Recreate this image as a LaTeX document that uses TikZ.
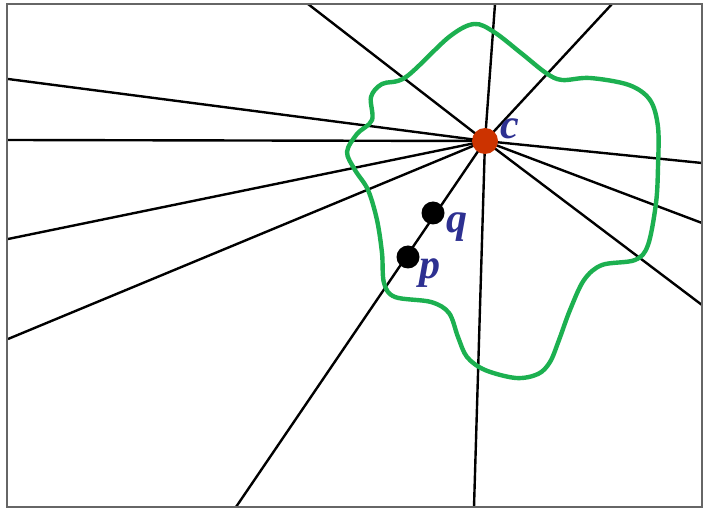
\documentclass[tikz,border=0pt]{standalone}
\usepackage{fontspec}
\setmainfont{Liberation Serif}
\definecolor{curvegreen}{RGB}{28,176,80}
\definecolor{dotred}{RGB}{204,51,0}
\definecolor{labelblue}{RGB}{45,48,145}
\begin{document}
\begin{tikzpicture}[x=1pt,y=-1pt,
  ray/.style={line width=2.4pt,black},
  frame/.style={line width=2pt,draw=black!60},
  blob/.style={line width=4.4pt,draw=curvegreen},
  dotnode/.style={circle,fill=black,inner sep=0pt,minimum size=23pt},
  lbl/.style={text=labelblue,font=\fontsize{42}{42}\selectfont\bfseries\itshape,inner sep=0pt,anchor=base west}]
\useasboundingbox (0,0) rectangle (704,510);
\fill[white] (0,0) rectangle (704,510);
\coordinate (c) at (485,141);
% ray ends on the frame
\coordinate (L1) at (8,79);
\coordinate (L2) at (8,140);
\coordinate (L3) at (8,239);
\coordinate (L4) at (8,339);
\coordinate (T1) at (308,4);
\coordinate (T2) at (495,4);
\coordinate (T3) at (612,4);
\coordinate (R1) at (702,163);
\coordinate (R2) at (702,223);
\coordinate (R3) at (702,305);
\coordinate (B1) at (236,507);
\coordinate (B2) at (474,507);
\foreach \e in {L1,L2,L3,L4,T1,T2,T3,R1,R2,R3,B1,B2}
  \draw[ray] (c) -- (\e);
\draw[frame] (7,4) rectangle (702,507);
\draw[blob] plot[smooth cycle,tension=0.55] coordinates {
 (474,24) (494,32) (521,53) (546,73) (562,80) (590,78) (629,85) (650,100)
 (658,127) (658,167) (656,203) (648,245) (635,260) (602,265) (584,280)
 (570,310) (559,340) (550,362) (538,374) (516,378) (485,370) (467,357)
 (458,337) (449,313) (431,302) (395,297) (384,283) (382,253) (377,220)
 (368,190) (355,170) (347,152) (357,134) (372,120) (371,97) (382,84)
 (406,77) (449,37)};
\node[dotnode] (q) at (433,213) {};
\node[dotnode] (p) at (408,257) {};
\node[circle,fill=dotred,inner sep=0pt,minimum size=26pt] (cdot) at (c) {};
\node[lbl] (clabel) at (500,139) {c};
\node[lbl] (qlabel) at (446,233) {q};
\node[lbl] (plabel) at (419,279) {p};
\end{tikzpicture}
\end{document}
